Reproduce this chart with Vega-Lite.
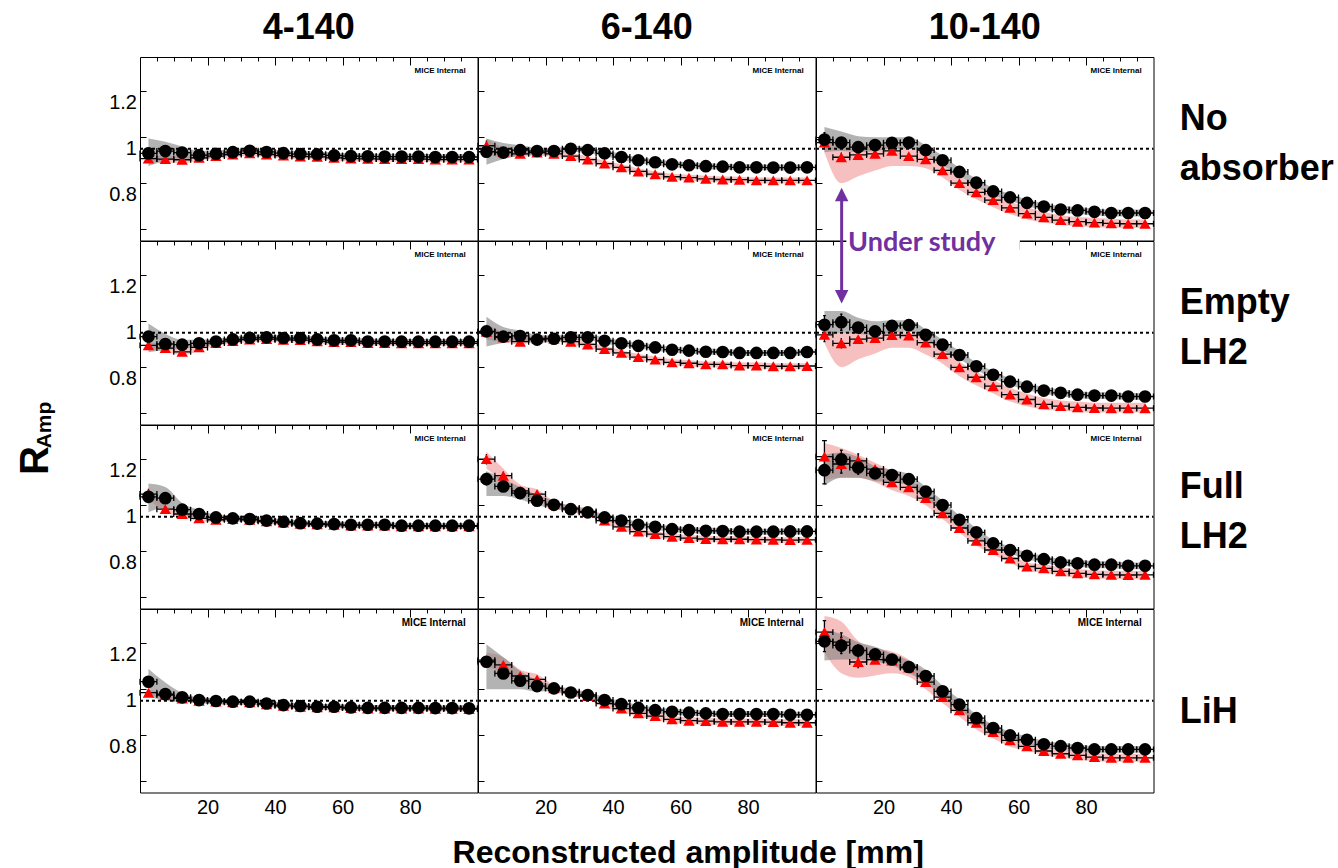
{
"$schema":"https://vega.github.io/schema/vega-lite/v6.json",
"background":"white",
"padding":{"left":16,"top":10,"right":2,"bottom":2},
"config":{
 "font":"Liberation Sans",
 "view":{"stroke":"black","strokeWidth":1},
 "axis":{"domain":false,"ticks":false,"grid":true,"gridColor":"black","gridOpacity":1,"gridWidth":1,"labelFont":"Liberation Sans","labelFontSize":20,"labelColor":"black","labelOverlap":false},
 "header":{"labelFont":"Liberation Sans","titleFont":"Liberation Sans","labelColor":"black","titleColor":"black"}
},
"title":{"text":"Reconstructed amplitude [mm]","orient":"bottom","anchor":"middle","fontSize":32,"fontWeight":"bold","font":"Liberation Sans","color":"black","offset":21,"dx":13},
"vconcat":[{
"title":{"text":"R","orient":"left","anchor":"middle","fontSize":40,"fontWeight":"bold","font":"Liberation Sans","color":"black","offset":-22,"dx":-47},
"bounds":"flush",
"data":{"values":[
{"r":1,"c":1,"x":2.5,"d":0.98,"de":0.02,"dl":0.925,"dh":1.045,"m":0.957,"me":0.015,"ml":0.942,"mh":0.972},
{"r":1,"c":1,"x":7.5,"d":0.99,"de":0.008,"dl":0.945,"dh":1.03,"m":0.955,"me":0.008,"ml":0.94,"mh":0.97},
{"r":1,"c":1,"x":12.5,"d":0.983,"de":0.008,"dl":0.955,"dh":1.01,"m":0.952,"me":0.008,"ml":0.937,"mh":0.967},
{"r":1,"c":1,"x":17.5,"d":0.972,"de":0.008,"dl":0.955,"dh":0.99,"m":0.96,"me":0.008,"ml":0.948,"mh":0.972},
{"r":1,"c":1,"x":22.5,"d":0.978,"de":0.008,"dl":0.963,"dh":0.993,"m":0.968,"me":0.008,"ml":0.956,"mh":0.98},
{"r":1,"c":1,"x":27.5,"d":0.985,"de":0.008,"dl":0.973,"dh":0.997,"m":0.975,"me":0.008,"ml":0.963,"mh":0.987},
{"r":1,"c":1,"x":32.5,"d":0.991,"de":0.008,"dl":0.979,"dh":1.003,"m":0.98,"me":0.008,"ml":0.968,"mh":0.992},
{"r":1,"c":1,"x":37.5,"d":0.986,"de":0.008,"dl":0.974,"dh":0.998,"m":0.975,"me":0.008,"ml":0.963,"mh":0.987},
{"r":1,"c":1,"x":42.5,"d":0.981,"de":0.008,"dl":0.969,"dh":0.993,"m":0.97,"me":0.008,"ml":0.958,"mh":0.982},
{"r":1,"c":1,"x":47.5,"d":0.977,"de":0.008,"dl":0.965,"dh":0.989,"m":0.966,"me":0.008,"ml":0.954,"mh":0.978},
{"r":1,"c":1,"x":52.5,"d":0.976,"de":0.008,"dl":0.964,"dh":0.988,"m":0.965,"me":0.008,"ml":0.953,"mh":0.977},
{"r":1,"c":1,"x":57.5,"d":0.971,"de":0.008,"dl":0.959,"dh":0.983,"m":0.96,"me":0.008,"ml":0.948,"mh":0.972},
{"r":1,"c":1,"x":62.5,"d":0.968,"de":0.008,"dl":0.956,"dh":0.98,"m":0.957,"me":0.008,"ml":0.945,"mh":0.969},
{"r":1,"c":1,"x":67.5,"d":0.967,"de":0.008,"dl":0.955,"dh":0.979,"m":0.956,"me":0.008,"ml":0.944,"mh":0.968},
{"r":1,"c":1,"x":72.5,"d":0.966,"de":0.008,"dl":0.954,"dh":0.978,"m":0.955,"me":0.008,"ml":0.943,"mh":0.967},
{"r":1,"c":1,"x":77.5,"d":0.966,"de":0.008,"dl":0.954,"dh":0.978,"m":0.955,"me":0.008,"ml":0.943,"mh":0.967},
{"r":1,"c":1,"x":82.5,"d":0.966,"de":0.008,"dl":0.954,"dh":0.978,"m":0.955,"me":0.008,"ml":0.943,"mh":0.967},
{"r":1,"c":1,"x":87.5,"d":0.964,"de":0.008,"dl":0.952,"dh":0.976,"m":0.953,"me":0.008,"ml":0.941,"mh":0.965},
{"r":1,"c":1,"x":92.5,"d":0.964,"de":0.008,"dl":0.952,"dh":0.976,"m":0.953,"me":0.008,"ml":0.941,"mh":0.965},
{"r":1,"c":1,"x":97.5,"d":0.964,"de":0.008,"dl":0.952,"dh":0.976,"m":0.953,"me":0.008,"ml":0.941,"mh":0.965},
{"r":1,"c":2,"x":2.5,"d":0.987,"de":0.02,"dl":0.93,"dh":1.045,"m":1.013,"me":0.02,"ml":0.972,"mh":1.045},
{"r":1,"c":2,"x":7.5,"d":0.983,"de":0.012,"dl":0.955,"dh":1.025,"m":0.985,"me":0.008,"ml":0.965,"mh":1.005},
{"r":1,"c":2,"x":12.5,"d":0.994,"de":0.008,"dl":0.97,"dh":1.015,"m":0.978,"me":0.008,"ml":0.965,"mh":0.991},
{"r":1,"c":2,"x":17.5,"d":0.99,"de":0.008,"dl":0.975,"dh":1.005,"m":0.983,"me":0.008,"ml":0.97,"mh":0.996},
{"r":1,"c":2,"x":22.5,"d":0.99,"de":0.008,"dl":0.977,"dh":1.003,"m":0.978,"me":0.008,"ml":0.965,"mh":0.991},
{"r":1,"c":2,"x":27.5,"d":1.0,"de":0.008,"dl":0.987,"dh":1.013,"m":0.968,"me":0.008,"ml":0.955,"mh":0.981},
{"r":1,"c":2,"x":32.5,"d":0.994,"de":0.008,"dl":0.981,"dh":1.007,"m":0.953,"me":0.008,"ml":0.94,"mh":0.966},
{"r":1,"c":2,"x":37.5,"d":0.98,"de":0.008,"dl":0.967,"dh":0.993,"m":0.935,"me":0.008,"ml":0.922,"mh":0.948},
{"r":1,"c":2,"x":42.5,"d":0.964,"de":0.008,"dl":0.951,"dh":0.977,"m":0.919,"me":0.008,"ml":0.906,"mh":0.932},
{"r":1,"c":2,"x":47.5,"d":0.95,"de":0.008,"dl":0.937,"dh":0.963,"m":0.901,"me":0.008,"ml":0.888,"mh":0.914},
{"r":1,"c":2,"x":52.5,"d":0.941,"de":0.008,"dl":0.928,"dh":0.954,"m":0.889,"me":0.008,"ml":0.876,"mh":0.902},
{"r":1,"c":2,"x":57.5,"d":0.932,"de":0.008,"dl":0.919,"dh":0.945,"m":0.878,"me":0.008,"ml":0.865,"mh":0.891},
{"r":1,"c":2,"x":62.5,"d":0.928,"de":0.008,"dl":0.915,"dh":0.941,"m":0.874,"me":0.008,"ml":0.861,"mh":0.887},
{"r":1,"c":2,"x":67.5,"d":0.924,"de":0.008,"dl":0.911,"dh":0.937,"m":0.869,"me":0.008,"ml":0.856,"mh":0.882},
{"r":1,"c":2,"x":72.5,"d":0.922,"de":0.008,"dl":0.909,"dh":0.935,"m":0.866,"me":0.008,"ml":0.853,"mh":0.879},
{"r":1,"c":2,"x":77.5,"d":0.919,"de":0.008,"dl":0.906,"dh":0.932,"m":0.865,"me":0.008,"ml":0.852,"mh":0.878},
{"r":1,"c":2,"x":82.5,"d":0.919,"de":0.008,"dl":0.906,"dh":0.932,"m":0.862,"me":0.008,"ml":0.849,"mh":0.875},
{"r":1,"c":2,"x":87.5,"d":0.918,"de":0.008,"dl":0.905,"dh":0.931,"m":0.862,"me":0.008,"ml":0.849,"mh":0.875},
{"r":1,"c":2,"x":92.5,"d":0.918,"de":0.008,"dl":0.905,"dh":0.931,"m":0.862,"me":0.008,"ml":0.849,"mh":0.875},
{"r":1,"c":2,"x":97.5,"d":0.919,"de":0.008,"dl":0.906,"dh":0.932,"m":0.862,"me":0.008,"ml":0.849,"mh":0.875},
{"r":1,"c":3,"x":2.5,"d":1.04,"de":0.03,"dl":0.985,"dh":1.095,"m":1.027,"me":0.02,"ml":0.985,"mh":1.06},
{"r":1,"c":3,"x":7.5,"d":1.027,"de":0.02,"dl":0.99,"dh":1.075,"m":0.963,"me":0.018,"ml":0.85,"mh":1.02},
{"r":1,"c":3,"x":12.5,"d":1.007,"de":0.015,"dl":0.985,"dh":1.055,"m":0.973,"me":0.012,"ml":0.88,"mh":1.01},
{"r":1,"c":3,"x":17.5,"d":1.016,"de":0.01,"dl":0.99,"dh":1.05,"m":0.978,"me":0.008,"ml":0.905,"mh":1.01},
{"r":1,"c":3,"x":22.5,"d":1.026,"de":0.01,"dl":1.0,"dh":1.05,"m":0.991,"me":0.008,"ml":0.925,"mh":1.02},
{"r":1,"c":3,"x":27.5,"d":1.027,"de":0.01,"dl":1.0,"dh":1.05,"m":0.968,"me":0.008,"ml":0.925,"mh":1.0},
{"r":1,"c":3,"x":32.5,"d":0.994,"de":0.01,"dl":0.975,"dh":1.015,"m":0.954,"me":0.008,"ml":0.915,"mh":0.98},
{"r":1,"c":3,"x":37.5,"d":0.95,"de":0.01,"dl":0.93,"dh":0.97,"m":0.906,"me":0.008,"ml":0.875,"mh":0.935},
{"r":1,"c":3,"x":42.5,"d":0.899,"de":0.01,"dl":0.882,"dh":0.916,"m":0.85,"me":0.008,"ml":0.82,"mh":0.88},
{"r":1,"c":3,"x":47.5,"d":0.852,"de":0.01,"dl":0.836,"dh":0.868,"m":0.81,"me":0.008,"ml":0.78,"mh":0.84},
{"r":1,"c":3,"x":52.5,"d":0.814,"de":0.01,"dl":0.799,"dh":0.829,"m":0.776,"me":0.008,"ml":0.745,"mh":0.805},
{"r":1,"c":3,"x":57.5,"d":0.788,"de":0.01,"dl":0.773,"dh":0.803,"m":0.742,"me":0.008,"ml":0.715,"mh":0.77},
{"r":1,"c":3,"x":62.5,"d":0.764,"de":0.01,"dl":0.749,"dh":0.779,"m":0.717,"me":0.008,"ml":0.693,"mh":0.745},
{"r":1,"c":3,"x":67.5,"d":0.748,"de":0.01,"dl":0.733,"dh":0.763,"m":0.701,"me":0.008,"ml":0.678,"mh":0.725},
{"r":1,"c":3,"x":72.5,"d":0.735,"de":0.01,"dl":0.72,"dh":0.75,"m":0.689,"me":0.008,"ml":0.668,"mh":0.71},
{"r":1,"c":3,"x":77.5,"d":0.731,"de":0.01,"dl":0.716,"dh":0.746,"m":0.682,"me":0.008,"ml":0.662,"mh":0.702},
{"r":1,"c":3,"x":82.5,"d":0.725,"de":0.01,"dl":0.71,"dh":0.74,"m":0.678,"me":0.008,"ml":0.658,"mh":0.698},
{"r":1,"c":3,"x":87.5,"d":0.72,"de":0.01,"dl":0.705,"dh":0.735,"m":0.675,"me":0.008,"ml":0.656,"mh":0.695},
{"r":1,"c":3,"x":92.5,"d":0.72,"de":0.01,"dl":0.705,"dh":0.735,"m":0.673,"me":0.008,"ml":0.655,"mh":0.692},
{"r":1,"c":3,"x":97.5,"d":0.72,"de":0.01,"dl":0.705,"dh":0.735,"m":0.673,"me":0.008,"ml":0.655,"mh":0.692},
{"r":2,"c":1,"x":2.5,"d":0.983,"de":0.02,"dl":0.915,"dh":1.04,"m":0.945,"me":0.015,"ml":0.93,"mh":0.96},
{"r":2,"c":1,"x":7.5,"d":0.951,"de":0.008,"dl":0.925,"dh":0.995,"m":0.933,"me":0.008,"ml":0.918,"mh":0.948},
{"r":2,"c":1,"x":12.5,"d":0.948,"de":0.008,"dl":0.93,"dh":0.97,"m":0.917,"me":0.008,"ml":0.902,"mh":0.932},
{"r":2,"c":1,"x":17.5,"d":0.954,"de":0.008,"dl":0.94,"dh":0.97,"m":0.936,"me":0.008,"ml":0.922,"mh":0.95},
{"r":2,"c":1,"x":22.5,"d":0.962,"de":0.008,"dl":0.95,"dh":0.975,"m":0.955,"me":0.008,"ml":0.943,"mh":0.967},
{"r":2,"c":1,"x":27.5,"d":0.971,"de":0.008,"dl":0.959,"dh":0.983,"m":0.964,"me":0.008,"ml":0.952,"mh":0.976},
{"r":2,"c":1,"x":32.5,"d":0.978,"de":0.008,"dl":0.966,"dh":0.99,"m":0.97,"me":0.008,"ml":0.958,"mh":0.982},
{"r":2,"c":1,"x":37.5,"d":0.98,"de":0.008,"dl":0.968,"dh":0.992,"m":0.972,"me":0.008,"ml":0.96,"mh":0.984},
{"r":2,"c":1,"x":42.5,"d":0.977,"de":0.008,"dl":0.965,"dh":0.989,"m":0.969,"me":0.008,"ml":0.957,"mh":0.981},
{"r":2,"c":1,"x":47.5,"d":0.977,"de":0.008,"dl":0.965,"dh":0.989,"m":0.968,"me":0.008,"ml":0.956,"mh":0.98},
{"r":2,"c":1,"x":52.5,"d":0.971,"de":0.008,"dl":0.959,"dh":0.983,"m":0.963,"me":0.008,"ml":0.951,"mh":0.975},
{"r":2,"c":1,"x":57.5,"d":0.967,"de":0.008,"dl":0.955,"dh":0.979,"m":0.959,"me":0.008,"ml":0.947,"mh":0.971},
{"r":2,"c":1,"x":62.5,"d":0.967,"de":0.008,"dl":0.955,"dh":0.979,"m":0.959,"me":0.008,"ml":0.947,"mh":0.971},
{"r":2,"c":1,"x":67.5,"d":0.962,"de":0.008,"dl":0.95,"dh":0.974,"m":0.955,"me":0.008,"ml":0.943,"mh":0.967},
{"r":2,"c":1,"x":72.5,"d":0.962,"de":0.008,"dl":0.95,"dh":0.974,"m":0.955,"me":0.008,"ml":0.943,"mh":0.967},
{"r":2,"c":1,"x":77.5,"d":0.961,"de":0.008,"dl":0.949,"dh":0.973,"m":0.954,"me":0.008,"ml":0.942,"mh":0.966},
{"r":2,"c":1,"x":82.5,"d":0.961,"de":0.008,"dl":0.949,"dh":0.973,"m":0.954,"me":0.008,"ml":0.942,"mh":0.966},
{"r":2,"c":1,"x":87.5,"d":0.961,"de":0.008,"dl":0.949,"dh":0.973,"m":0.954,"me":0.008,"ml":0.942,"mh":0.966},
{"r":2,"c":1,"x":92.5,"d":0.961,"de":0.008,"dl":0.949,"dh":0.973,"m":0.954,"me":0.008,"ml":0.942,"mh":0.966},
{"r":2,"c":1,"x":97.5,"d":0.961,"de":0.008,"dl":0.949,"dh":0.973,"m":0.954,"me":0.008,"ml":0.942,"mh":0.966},
{"r":2,"c":2,"x":2.5,"d":1.006,"de":0.02,"dl":0.94,"dh":1.07,"m":1.004,"me":0.02,"ml":0.97,"mh":1.04},
{"r":2,"c":2,"x":7.5,"d":0.983,"de":0.012,"dl":0.955,"dh":1.025,"m":0.98,"me":0.008,"ml":0.96,"mh":1.0},
{"r":2,"c":2,"x":12.5,"d":0.986,"de":0.008,"dl":0.965,"dh":1.01,"m":0.961,"me":0.008,"ml":0.948,"mh":0.974},
{"r":2,"c":2,"x":17.5,"d":0.97,"de":0.008,"dl":0.955,"dh":0.99,"m":0.975,"me":0.008,"ml":0.962,"mh":0.988},
{"r":2,"c":2,"x":22.5,"d":0.974,"de":0.008,"dl":0.961,"dh":0.987,"m":0.975,"me":0.008,"ml":0.962,"mh":0.988},
{"r":2,"c":2,"x":27.5,"d":0.98,"de":0.008,"dl":0.967,"dh":0.993,"m":0.961,"me":0.008,"ml":0.948,"mh":0.974},
{"r":2,"c":2,"x":32.5,"d":0.98,"de":0.008,"dl":0.967,"dh":0.993,"m":0.949,"me":0.008,"ml":0.936,"mh":0.962},
{"r":2,"c":2,"x":37.5,"d":0.965,"de":0.008,"dl":0.952,"dh":0.978,"m":0.929,"me":0.008,"ml":0.916,"mh":0.942},
{"r":2,"c":2,"x":42.5,"d":0.954,"de":0.008,"dl":0.941,"dh":0.967,"m":0.912,"me":0.008,"ml":0.899,"mh":0.925},
{"r":2,"c":2,"x":47.5,"d":0.943,"de":0.008,"dl":0.93,"dh":0.956,"m":0.894,"me":0.008,"ml":0.881,"mh":0.907},
{"r":2,"c":2,"x":52.5,"d":0.936,"de":0.008,"dl":0.923,"dh":0.949,"m":0.883,"me":0.008,"ml":0.87,"mh":0.896},
{"r":2,"c":2,"x":57.5,"d":0.926,"de":0.008,"dl":0.913,"dh":0.939,"m":0.871,"me":0.008,"ml":0.858,"mh":0.884},
{"r":2,"c":2,"x":62.5,"d":0.922,"de":0.008,"dl":0.909,"dh":0.935,"m":0.867,"me":0.008,"ml":0.854,"mh":0.88},
{"r":2,"c":2,"x":67.5,"d":0.917,"de":0.008,"dl":0.904,"dh":0.93,"m":0.862,"me":0.008,"ml":0.849,"mh":0.875},
{"r":2,"c":2,"x":72.5,"d":0.916,"de":0.008,"dl":0.903,"dh":0.929,"m":0.862,"me":0.008,"ml":0.849,"mh":0.875},
{"r":2,"c":2,"x":77.5,"d":0.912,"de":0.008,"dl":0.899,"dh":0.925,"m":0.857,"me":0.008,"ml":0.844,"mh":0.87},
{"r":2,"c":2,"x":82.5,"d":0.912,"de":0.008,"dl":0.899,"dh":0.925,"m":0.857,"me":0.008,"ml":0.844,"mh":0.87},
{"r":2,"c":2,"x":87.5,"d":0.912,"de":0.008,"dl":0.899,"dh":0.925,"m":0.854,"me":0.008,"ml":0.841,"mh":0.867},
{"r":2,"c":2,"x":92.5,"d":0.912,"de":0.008,"dl":0.899,"dh":0.925,"m":0.854,"me":0.008,"ml":0.841,"mh":0.867},
{"r":2,"c":2,"x":97.5,"d":0.916,"de":0.008,"dl":0.903,"dh":0.929,"m":0.855,"me":0.008,"ml":0.842,"mh":0.868},
{"r":2,"c":3,"x":2.5,"d":1.035,"de":0.04,"dl":0.985,"dh":1.095,"m":0.991,"me":0.03,"ml":0.955,"mh":1.02},
{"r":2,"c":3,"x":7.5,"d":1.046,"de":0.035,"dl":1.0,"dh":1.095,"m":0.954,"me":0.02,"ml":0.85,"mh":1.0},
{"r":2,"c":3,"x":12.5,"d":1.023,"de":0.02,"dl":0.995,"dh":1.065,"m":0.972,"me":0.01,"ml":0.885,"mh":1.0},
{"r":2,"c":3,"x":17.5,"d":1.006,"de":0.01,"dl":0.99,"dh":1.05,"m":0.977,"me":0.01,"ml":0.91,"mh":1.0},
{"r":2,"c":3,"x":22.5,"d":1.03,"de":0.01,"dl":1.0,"dh":1.055,"m":0.99,"me":0.01,"ml":0.935,"mh":1.01},
{"r":2,"c":3,"x":27.5,"d":1.033,"de":0.01,"dl":1.005,"dh":1.055,"m":0.988,"me":0.01,"ml":0.935,"mh":1.0},
{"r":2,"c":3,"x":32.5,"d":0.991,"de":0.01,"dl":0.97,"dh":1.015,"m":0.957,"me":0.01,"ml":0.905,"mh":0.98},
{"r":2,"c":3,"x":37.5,"d":0.948,"de":0.01,"dl":0.925,"dh":0.97,"m":0.907,"me":0.01,"ml":0.865,"mh":0.935},
{"r":2,"c":3,"x":42.5,"d":0.903,"de":0.01,"dl":0.886,"dh":0.92,"m":0.849,"me":0.01,"ml":0.81,"mh":0.875},
{"r":2,"c":3,"x":47.5,"d":0.854,"de":0.01,"dl":0.838,"dh":0.87,"m":0.806,"me":0.01,"ml":0.77,"mh":0.83},
{"r":2,"c":3,"x":52.5,"d":0.817,"de":0.01,"dl":0.802,"dh":0.832,"m":0.767,"me":0.01,"ml":0.735,"mh":0.795},
{"r":2,"c":3,"x":57.5,"d":0.787,"de":0.01,"dl":0.772,"dh":0.802,"m":0.73,"me":0.01,"ml":0.7,"mh":0.76},
{"r":2,"c":3,"x":62.5,"d":0.765,"de":0.01,"dl":0.75,"dh":0.78,"m":0.709,"me":0.01,"ml":0.68,"mh":0.735},
{"r":2,"c":3,"x":67.5,"d":0.748,"de":0.01,"dl":0.733,"dh":0.763,"m":0.688,"me":0.01,"ml":0.665,"mh":0.715},
{"r":2,"c":3,"x":72.5,"d":0.738,"de":0.01,"dl":0.723,"dh":0.753,"m":0.68,"me":0.01,"ml":0.66,"mh":0.705},
{"r":2,"c":3,"x":77.5,"d":0.73,"de":0.01,"dl":0.715,"dh":0.745,"m":0.675,"me":0.01,"ml":0.655,"mh":0.7},
{"r":2,"c":3,"x":82.5,"d":0.726,"de":0.01,"dl":0.711,"dh":0.741,"m":0.672,"me":0.01,"ml":0.652,"mh":0.695},
{"r":2,"c":3,"x":87.5,"d":0.726,"de":0.01,"dl":0.711,"dh":0.741,"m":0.671,"me":0.01,"ml":0.652,"mh":0.695},
{"r":2,"c":3,"x":92.5,"d":0.722,"de":0.01,"dl":0.707,"dh":0.737,"m":0.671,"me":0.01,"ml":0.652,"mh":0.695},
{"r":2,"c":3,"x":97.5,"d":0.722,"de":0.01,"dl":0.707,"dh":0.737,"m":0.671,"me":0.01,"ml":0.652,"mh":0.695},
{"r":3,"c":1,"x":2.5,"d":1.087,"de":0.025,"dl":1.02,"dh":1.145,"m":1.099,"me":0.02,"ml":1.08,"mh":1.12},
{"r":3,"c":1,"x":7.5,"d":1.081,"de":0.015,"dl":1.04,"dh":1.13,"m":1.033,"me":0.008,"ml":1.02,"mh":1.05},
{"r":3,"c":1,"x":12.5,"d":1.031,"de":0.008,"dl":1.01,"dh":1.06,"m":1.012,"me":0.008,"ml":1.0,"mh":1.024},
{"r":3,"c":1,"x":17.5,"d":1.012,"de":0.008,"dl":0.995,"dh":1.03,"m":0.993,"me":0.008,"ml":0.981,"mh":1.005},
{"r":3,"c":1,"x":22.5,"d":0.997,"de":0.008,"dl":0.985,"dh":1.009,"m":0.987,"me":0.008,"ml":0.975,"mh":0.999},
{"r":3,"c":1,"x":27.5,"d":0.993,"de":0.008,"dl":0.981,"dh":1.005,"m":0.99,"me":0.008,"ml":0.978,"mh":1.002},
{"r":3,"c":1,"x":32.5,"d":0.99,"de":0.008,"dl":0.978,"dh":1.002,"m":0.987,"me":0.008,"ml":0.975,"mh":0.999},
{"r":3,"c":1,"x":37.5,"d":0.983,"de":0.008,"dl":0.971,"dh":0.995,"m":0.98,"me":0.008,"ml":0.968,"mh":0.992},
{"r":3,"c":1,"x":42.5,"d":0.978,"de":0.008,"dl":0.966,"dh":0.99,"m":0.975,"me":0.008,"ml":0.963,"mh":0.987},
{"r":3,"c":1,"x":47.5,"d":0.972,"de":0.008,"dl":0.96,"dh":0.984,"m":0.969,"me":0.008,"ml":0.957,"mh":0.981},
{"r":3,"c":1,"x":52.5,"d":0.97,"de":0.008,"dl":0.958,"dh":0.982,"m":0.967,"me":0.008,"ml":0.955,"mh":0.979},
{"r":3,"c":1,"x":57.5,"d":0.968,"de":0.008,"dl":0.956,"dh":0.98,"m":0.965,"me":0.008,"ml":0.953,"mh":0.977},
{"r":3,"c":1,"x":62.5,"d":0.965,"de":0.008,"dl":0.953,"dh":0.977,"m":0.962,"me":0.008,"ml":0.95,"mh":0.974},
{"r":3,"c":1,"x":67.5,"d":0.965,"de":0.008,"dl":0.953,"dh":0.977,"m":0.962,"me":0.008,"ml":0.95,"mh":0.974},
{"r":3,"c":1,"x":72.5,"d":0.965,"de":0.008,"dl":0.953,"dh":0.977,"m":0.962,"me":0.008,"ml":0.95,"mh":0.974},
{"r":3,"c":1,"x":77.5,"d":0.961,"de":0.008,"dl":0.949,"dh":0.973,"m":0.958,"me":0.008,"ml":0.946,"mh":0.97},
{"r":3,"c":1,"x":82.5,"d":0.961,"de":0.008,"dl":0.949,"dh":0.973,"m":0.958,"me":0.008,"ml":0.946,"mh":0.97},
{"r":3,"c":1,"x":87.5,"d":0.961,"de":0.008,"dl":0.949,"dh":0.973,"m":0.958,"me":0.008,"ml":0.946,"mh":0.97},
{"r":3,"c":1,"x":92.5,"d":0.961,"de":0.008,"dl":0.949,"dh":0.973,"m":0.958,"me":0.008,"ml":0.946,"mh":0.97},
{"r":3,"c":1,"x":97.5,"d":0.961,"de":0.008,"dl":0.949,"dh":0.973,"m":0.958,"me":0.008,"ml":0.946,"mh":0.97},
{"r":3,"c":2,"x":2.5,"d":1.164,"de":0.025,"dl":1.09,"dh":1.2,"m":1.251,"me":0.02,"ml":1.21,"mh":1.285},
{"r":3,"c":2,"x":7.5,"d":1.132,"de":0.02,"dl":1.09,"dh":1.165,"m":1.179,"me":0.015,"ml":1.15,"mh":1.21},
{"r":3,"c":2,"x":12.5,"d":1.103,"de":0.012,"dl":1.075,"dh":1.13,"m":1.113,"me":0.008,"ml":1.09,"mh":1.14},
{"r":3,"c":2,"x":17.5,"d":1.07,"de":0.008,"dl":1.05,"dh":1.095,"m":1.099,"me":0.008,"ml":1.075,"mh":1.12},
{"r":3,"c":2,"x":22.5,"d":1.052,"de":0.008,"dl":1.035,"dh":1.07,"m":1.055,"me":0.008,"ml":1.042,"mh":1.068},
{"r":3,"c":2,"x":27.5,"d":1.033,"de":0.008,"dl":1.02,"dh":1.046,"m":1.038,"me":0.008,"ml":1.025,"mh":1.051},
{"r":3,"c":2,"x":32.5,"d":1.019,"de":0.008,"dl":1.006,"dh":1.032,"m":1.023,"me":0.008,"ml":1.01,"mh":1.036},
{"r":3,"c":2,"x":37.5,"d":0.997,"de":0.008,"dl":0.984,"dh":1.01,"m":0.983,"me":0.008,"ml":0.97,"mh":0.996},
{"r":3,"c":2,"x":42.5,"d":0.983,"de":0.008,"dl":0.97,"dh":0.996,"m":0.956,"me":0.008,"ml":0.943,"mh":0.969},
{"r":3,"c":2,"x":47.5,"d":0.965,"de":0.008,"dl":0.952,"dh":0.978,"m":0.935,"me":0.008,"ml":0.922,"mh":0.948},
{"r":3,"c":2,"x":52.5,"d":0.956,"de":0.008,"dl":0.943,"dh":0.969,"m":0.924,"me":0.008,"ml":0.911,"mh":0.937},
{"r":3,"c":2,"x":57.5,"d":0.946,"de":0.008,"dl":0.933,"dh":0.959,"m":0.913,"me":0.008,"ml":0.9,"mh":0.926},
{"r":3,"c":2,"x":62.5,"d":0.942,"de":0.008,"dl":0.929,"dh":0.955,"m":0.907,"me":0.008,"ml":0.894,"mh":0.92},
{"r":3,"c":2,"x":67.5,"d":0.939,"de":0.008,"dl":0.926,"dh":0.952,"m":0.903,"me":0.008,"ml":0.89,"mh":0.916},
{"r":3,"c":2,"x":72.5,"d":0.938,"de":0.008,"dl":0.925,"dh":0.951,"m":0.902,"me":0.008,"ml":0.889,"mh":0.915},
{"r":3,"c":2,"x":77.5,"d":0.935,"de":0.008,"dl":0.922,"dh":0.948,"m":0.902,"me":0.008,"ml":0.889,"mh":0.915},
{"r":3,"c":2,"x":82.5,"d":0.935,"de":0.008,"dl":0.922,"dh":0.948,"m":0.9,"me":0.008,"ml":0.887,"mh":0.913},
{"r":3,"c":2,"x":87.5,"d":0.935,"de":0.008,"dl":0.922,"dh":0.948,"m":0.899,"me":0.008,"ml":0.886,"mh":0.912},
{"r":3,"c":2,"x":92.5,"d":0.936,"de":0.008,"dl":0.923,"dh":0.949,"m":0.898,"me":0.008,"ml":0.885,"mh":0.911},
{"r":3,"c":2,"x":97.5,"d":0.936,"de":0.008,"dl":0.923,"dh":0.949,"m":0.899,"me":0.008,"ml":0.886,"mh":0.912},
{"r":3,"c":3,"x":2.5,"d":1.203,"de":0.06,"dl":1.135,"dh":1.27,"m":1.262,"me":0.07,"ml":1.16,"mh":1.32},
{"r":3,"c":3,"x":7.5,"d":1.25,"de":0.04,"dl":1.17,"dh":1.28,"m":1.23,"me":0.04,"ml":1.17,"mh":1.3},
{"r":3,"c":3,"x":12.5,"d":1.215,"de":0.03,"dl":1.17,"dh":1.26,"m":1.244,"me":0.03,"ml":1.17,"mh":1.27},
{"r":3,"c":3,"x":17.5,"d":1.189,"de":0.02,"dl":1.155,"dh":1.22,"m":1.208,"me":0.012,"ml":1.15,"mh":1.235},
{"r":3,"c":3,"x":22.5,"d":1.182,"de":0.015,"dl":1.15,"dh":1.205,"m":1.15,"me":0.012,"ml":1.115,"mh":1.2},
{"r":3,"c":3,"x":27.5,"d":1.164,"de":0.01,"dl":1.135,"dh":1.185,"m":1.128,"me":0.012,"ml":1.09,"mh":1.16},
{"r":3,"c":3,"x":32.5,"d":1.11,"de":0.01,"dl":1.08,"dh":1.13,"m":1.081,"me":0.012,"ml":1.05,"mh":1.11},
{"r":3,"c":3,"x":37.5,"d":1.051,"de":0.01,"dl":1.025,"dh":1.07,"m":1.015,"me":0.012,"ml":0.99,"mh":1.04},
{"r":3,"c":3,"x":42.5,"d":0.987,"de":0.01,"dl":0.965,"dh":1.005,"m":0.951,"me":0.012,"ml":0.93,"mh":0.975},
{"r":3,"c":3,"x":47.5,"d":0.932,"de":0.01,"dl":0.91,"dh":0.95,"m":0.895,"me":0.012,"ml":0.875,"mh":0.92},
{"r":3,"c":3,"x":52.5,"d":0.884,"de":0.01,"dl":0.869,"dh":0.899,"m":0.855,"me":0.012,"ml":0.835,"mh":0.875},
{"r":3,"c":3,"x":57.5,"d":0.855,"de":0.01,"dl":0.84,"dh":0.87,"m":0.818,"me":0.012,"ml":0.8,"mh":0.836},
{"r":3,"c":3,"x":62.5,"d":0.83,"de":0.01,"dl":0.815,"dh":0.845,"m":0.783,"me":0.012,"ml":0.765,"mh":0.801},
{"r":3,"c":3,"x":67.5,"d":0.815,"de":0.01,"dl":0.8,"dh":0.83,"m":0.775,"me":0.012,"ml":0.757,"mh":0.793},
{"r":3,"c":3,"x":72.5,"d":0.801,"de":0.01,"dl":0.786,"dh":0.816,"m":0.762,"me":0.012,"ml":0.744,"mh":0.78},
{"r":3,"c":3,"x":77.5,"d":0.797,"de":0.01,"dl":0.782,"dh":0.812,"m":0.753,"me":0.012,"ml":0.735,"mh":0.771},
{"r":3,"c":3,"x":82.5,"d":0.791,"de":0.01,"dl":0.776,"dh":0.806,"m":0.749,"me":0.012,"ml":0.731,"mh":0.767},
{"r":3,"c":3,"x":87.5,"d":0.791,"de":0.01,"dl":0.776,"dh":0.806,"m":0.747,"me":0.012,"ml":0.729,"mh":0.765},
{"r":3,"c":3,"x":92.5,"d":0.786,"de":0.01,"dl":0.771,"dh":0.801,"m":0.746,"me":0.012,"ml":0.728,"mh":0.764},
{"r":3,"c":3,"x":97.5,"d":0.786,"de":0.01,"dl":0.771,"dh":0.801,"m":0.747,"me":0.012,"ml":0.729,"mh":0.765},
{"r":4,"c":1,"x":2.5,"d":1.083,"de":0.02,"dl":1.02,"dh":1.14,"m":1.035,"me":0.012,"ml":1.023,"mh":1.047},
{"r":4,"c":1,"x":7.5,"d":1.029,"de":0.008,"dl":1.0,"dh":1.08,"m":1.025,"me":0.008,"ml":1.013,"mh":1.037},
{"r":4,"c":1,"x":12.5,"d":1.015,"de":0.008,"dl":0.995,"dh":1.035,"m":1.01,"me":0.008,"ml":0.998,"mh":1.022},
{"r":4,"c":1,"x":17.5,"d":1.003,"de":0.008,"dl":0.99,"dh":1.015,"m":1.0,"me":0.008,"ml":0.988,"mh":1.012},
{"r":4,"c":1,"x":22.5,"d":0.999,"de":0.008,"dl":0.987,"dh":1.011,"m":0.996,"me":0.008,"ml":0.984,"mh":1.008},
{"r":4,"c":1,"x":27.5,"d":0.996,"de":0.008,"dl":0.984,"dh":1.008,"m":0.993,"me":0.008,"ml":0.981,"mh":1.005},
{"r":4,"c":1,"x":32.5,"d":0.996,"de":0.008,"dl":0.984,"dh":1.008,"m":0.993,"me":0.008,"ml":0.981,"mh":1.005},
{"r":4,"c":1,"x":37.5,"d":0.988,"de":0.008,"dl":0.976,"dh":1.0,"m":0.985,"me":0.008,"ml":0.973,"mh":0.997},
{"r":4,"c":1,"x":42.5,"d":0.981,"de":0.008,"dl":0.969,"dh":0.993,"m":0.978,"me":0.008,"ml":0.966,"mh":0.99},
{"r":4,"c":1,"x":47.5,"d":0.977,"de":0.008,"dl":0.965,"dh":0.989,"m":0.974,"me":0.008,"ml":0.962,"mh":0.986},
{"r":4,"c":1,"x":52.5,"d":0.974,"de":0.008,"dl":0.962,"dh":0.986,"m":0.971,"me":0.008,"ml":0.959,"mh":0.983},
{"r":4,"c":1,"x":57.5,"d":0.974,"de":0.008,"dl":0.962,"dh":0.986,"m":0.971,"me":0.008,"ml":0.959,"mh":0.983},
{"r":4,"c":1,"x":62.5,"d":0.971,"de":0.008,"dl":0.959,"dh":0.983,"m":0.968,"me":0.008,"ml":0.956,"mh":0.98},
{"r":4,"c":1,"x":67.5,"d":0.969,"de":0.008,"dl":0.957,"dh":0.981,"m":0.966,"me":0.008,"ml":0.954,"mh":0.978},
{"r":4,"c":1,"x":72.5,"d":0.969,"de":0.008,"dl":0.957,"dh":0.981,"m":0.966,"me":0.008,"ml":0.954,"mh":0.978},
{"r":4,"c":1,"x":77.5,"d":0.969,"de":0.008,"dl":0.957,"dh":0.981,"m":0.966,"me":0.008,"ml":0.954,"mh":0.978},
{"r":4,"c":1,"x":82.5,"d":0.969,"de":0.008,"dl":0.957,"dh":0.981,"m":0.966,"me":0.008,"ml":0.954,"mh":0.978},
{"r":4,"c":1,"x":87.5,"d":0.968,"de":0.008,"dl":0.956,"dh":0.98,"m":0.965,"me":0.008,"ml":0.953,"mh":0.977},
{"r":4,"c":1,"x":92.5,"d":0.968,"de":0.008,"dl":0.956,"dh":0.98,"m":0.965,"me":0.008,"ml":0.953,"mh":0.977},
{"r":4,"c":1,"x":97.5,"d":0.967,"de":0.008,"dl":0.955,"dh":0.979,"m":0.964,"me":0.008,"ml":0.952,"mh":0.976},
{"r":4,"c":2,"x":2.5,"d":1.17,"de":0.02,"dl":1.05,"dh":1.245,"m":1.177,"me":0.015,"ml":1.15,"mh":1.21},
{"r":4,"c":2,"x":7.5,"d":1.119,"de":0.008,"dl":1.05,"dh":1.19,"m":1.156,"me":0.008,"ml":1.12,"mh":1.19},
{"r":4,"c":2,"x":12.5,"d":1.087,"de":0.008,"dl":1.05,"dh":1.13,"m":1.108,"me":0.008,"ml":1.08,"mh":1.135},
{"r":4,"c":2,"x":17.5,"d":1.064,"de":0.008,"dl":1.04,"dh":1.09,"m":1.093,"me":0.008,"ml":1.07,"mh":1.115},
{"r":4,"c":2,"x":22.5,"d":1.054,"de":0.008,"dl":1.041,"dh":1.067,"m":1.054,"me":0.008,"ml":1.039,"mh":1.069},
{"r":4,"c":2,"x":27.5,"d":1.036,"de":0.008,"dl":1.023,"dh":1.049,"m":1.039,"me":0.008,"ml":1.024,"mh":1.054},
{"r":4,"c":2,"x":32.5,"d":1.025,"de":0.008,"dl":1.012,"dh":1.038,"m":1.02,"me":0.008,"ml":1.005,"mh":1.035},
{"r":4,"c":2,"x":37.5,"d":1.003,"de":0.008,"dl":0.99,"dh":1.016,"m":0.988,"me":0.008,"ml":0.973,"mh":1.003},
{"r":4,"c":2,"x":42.5,"d":0.985,"de":0.008,"dl":0.972,"dh":0.998,"m":0.966,"me":0.008,"ml":0.951,"mh":0.981},
{"r":4,"c":2,"x":47.5,"d":0.969,"de":0.008,"dl":0.956,"dh":0.982,"m":0.945,"me":0.008,"ml":0.93,"mh":0.96},
{"r":4,"c":2,"x":52.5,"d":0.959,"de":0.008,"dl":0.946,"dh":0.972,"m":0.933,"me":0.008,"ml":0.918,"mh":0.948},
{"r":4,"c":2,"x":57.5,"d":0.952,"de":0.008,"dl":0.939,"dh":0.965,"m":0.919,"me":0.008,"ml":0.904,"mh":0.934},
{"r":4,"c":2,"x":62.5,"d":0.948,"de":0.008,"dl":0.935,"dh":0.961,"m":0.913,"me":0.008,"ml":0.898,"mh":0.928},
{"r":4,"c":2,"x":67.5,"d":0.945,"de":0.008,"dl":0.932,"dh":0.958,"m":0.911,"me":0.008,"ml":0.896,"mh":0.926},
{"r":4,"c":2,"x":72.5,"d":0.942,"de":0.008,"dl":0.929,"dh":0.955,"m":0.908,"me":0.008,"ml":0.893,"mh":0.923},
{"r":4,"c":2,"x":77.5,"d":0.942,"de":0.008,"dl":0.929,"dh":0.955,"m":0.908,"me":0.008,"ml":0.893,"mh":0.923},
{"r":4,"c":2,"x":82.5,"d":0.942,"de":0.008,"dl":0.929,"dh":0.955,"m":0.908,"me":0.008,"ml":0.893,"mh":0.923},
{"r":4,"c":2,"x":87.5,"d":0.942,"de":0.008,"dl":0.929,"dh":0.955,"m":0.907,"me":0.008,"ml":0.892,"mh":0.922},
{"r":4,"c":2,"x":92.5,"d":0.939,"de":0.008,"dl":0.926,"dh":0.952,"m":0.904,"me":0.008,"ml":0.889,"mh":0.919},
{"r":4,"c":2,"x":97.5,"d":0.939,"de":0.008,"dl":0.926,"dh":0.952,"m":0.904,"me":0.008,"ml":0.889,"mh":0.919},
{"r":4,"c":3,"x":2.5,"d":1.259,"de":0.045,"dl":1.176,"dh":1.307,"m":1.299,"me":0.05,"ml":1.21,"mh":1.37},
{"r":4,"c":3,"x":7.5,"d":1.241,"de":0.035,"dl":1.18,"dh":1.29,"m":1.256,"me":0.04,"ml":1.12,"mh":1.345},
{"r":4,"c":3,"x":12.5,"d":1.219,"de":0.025,"dl":1.18,"dh":1.255,"m":1.169,"me":0.025,"ml":1.1,"mh":1.26},
{"r":4,"c":3,"x":17.5,"d":1.202,"de":0.01,"dl":1.17,"dh":1.235,"m":1.179,"me":0.012,"ml":1.11,"mh":1.23},
{"r":4,"c":3,"x":22.5,"d":1.18,"de":0.01,"dl":1.155,"dh":1.205,"m":1.175,"me":0.012,"ml":1.12,"mh":1.215},
{"r":4,"c":3,"x":27.5,"d":1.147,"de":0.01,"dl":1.12,"dh":1.175,"m":1.145,"me":0.012,"ml":1.105,"mh":1.18},
{"r":4,"c":3,"x":32.5,"d":1.108,"de":0.01,"dl":1.08,"dh":1.135,"m":1.081,"me":0.012,"ml":1.05,"mh":1.115},
{"r":4,"c":3,"x":37.5,"d":1.041,"de":0.01,"dl":1.015,"dh":1.065,"m":1.016,"me":0.012,"ml":0.99,"mh":1.045},
{"r":4,"c":3,"x":42.5,"d":0.983,"de":0.01,"dl":0.96,"dh":1.005,"m":0.958,"me":0.012,"ml":0.93,"mh":0.985},
{"r":4,"c":3,"x":47.5,"d":0.924,"de":0.01,"dl":0.909,"dh":0.939,"m":0.904,"me":0.012,"ml":0.875,"mh":0.93},
{"r":4,"c":3,"x":52.5,"d":0.881,"de":0.01,"dl":0.866,"dh":0.896,"m":0.863,"me":0.012,"ml":0.835,"mh":0.89},
{"r":4,"c":3,"x":57.5,"d":0.849,"de":0.01,"dl":0.834,"dh":0.864,"m":0.827,"me":0.012,"ml":0.8,"mh":0.855},
{"r":4,"c":3,"x":62.5,"d":0.83,"de":0.01,"dl":0.815,"dh":0.845,"m":0.801,"me":0.012,"ml":0.783,"mh":0.819},
{"r":4,"c":3,"x":67.5,"d":0.81,"de":0.01,"dl":0.795,"dh":0.825,"m":0.781,"me":0.012,"ml":0.763,"mh":0.799},
{"r":4,"c":3,"x":72.5,"d":0.802,"de":0.01,"dl":0.787,"dh":0.817,"m":0.769,"me":0.012,"ml":0.751,"mh":0.787},
{"r":4,"c":3,"x":77.5,"d":0.794,"de":0.01,"dl":0.779,"dh":0.809,"m":0.762,"me":0.012,"ml":0.744,"mh":0.78},
{"r":4,"c":3,"x":82.5,"d":0.788,"de":0.01,"dl":0.773,"dh":0.803,"m":0.754,"me":0.012,"ml":0.736,"mh":0.772},
{"r":4,"c":3,"x":87.5,"d":0.788,"de":0.01,"dl":0.773,"dh":0.803,"m":0.751,"me":0.012,"ml":0.733,"mh":0.769},
{"r":4,"c":3,"x":92.5,"d":0.788,"de":0.01,"dl":0.773,"dh":0.803,"m":0.751,"me":0.012,"ml":0.733,"mh":0.769},
{"r":4,"c":3,"x":97.5,"d":0.788,"de":0.01,"dl":0.773,"dh":0.803,"m":0.751,"me":0.012,"ml":0.733,"mh":0.769}
]},
"facet":{
 "row":{"field":"r","type":"ordinal","header":{"title":"Amp","titleOrient":"left","titleAngle":-90,"titleFontSize":21,"titleFontWeight":"bold","titlePadding":51,"labelOrient":"right","labelPadding":0,"labelExpr":"''"}},
 "column":{"field":"c","type":"ordinal","header":{"title":null,"labelFontSize":36,"labelFontWeight":"bold","labelPadding":10,"labelExpr":"datum.value==1?'4-140':datum.value==2?'6-140':'10-140'"}}
},
"spacing":{"row":0,"column":0},
"spec":{
 "width":337.5,"height":183.5,
 "encoding":{"x":{"field":"x","type":"quantitative","scale":{"domain":[0,100],"nice":false},"axis":{"values":[5,10,15,20,25,30,35,40,45,50,55,60,65,70,75,80,85,90,95],"labelExpr":"datum.value%20==0?datum.label:''","gridDash":{"condition":{"test":"datum.value%20==0","value":[8,1000]},"value":[4,1000]},"labelPadding":4,"labelFlush":false,"title":null}}},
 "layer":[
  {"mark":{"type":"area","interpolate":"monotone","color":"#f08c8c","opacity":0.55},
   "encoding":{"y":{"field":"ml","type":"quantitative","scale":{"domain":[0.6,1.4],"nice":false},"axis":{"values":[0.65,0.7,0.75,0.8,0.85,0.9,0.95,1,1.05,1.1,1.15,1.2,1.25,1.3,1.35],"labelExpr":"datum.value==1.2?'1.2':datum.value==1?'1':datum.value==0.8?'0.8':''","gridDash":{"condition":{"test":"datum.value==0.8||datum.value==1||datum.value==1.2","value":[12,1000]},"value":[6,1000]},"labelPadding":3,"title":null}},"y2":{"field":"mh"}}},
  {"mark":{"type":"area","interpolate":"monotone","color":"#808080","opacity":0.6},
   "encoding":{"y":{"field":"dl","type":"quantitative","scale":{"domain":[0.6,1.4],"nice":false},"axis":{"values":[0.65,0.7,0.75,0.8,0.85,0.9,0.95,1,1.05,1.1,1.15,1.2,1.25,1.3,1.35],"labelExpr":"datum.value==1.2?'1.2':datum.value==1?'1':datum.value==0.8?'0.8':''","gridDash":{"condition":{"test":"datum.value==0.8||datum.value==1||datum.value==1.2","value":[12,1000]},"value":[6,1000]},"labelPadding":3,"title":null}},"y2":{"field":"dh"}}},
  {"transform":[{"filter":"datum.x==97.5"}],"mark":{"type":"rule","strokeDash":[3,3],"strokeWidth":2,"color":"black"},
   "encoding":{"x":{"datum":0,"type":"quantitative"},"x2":{"datum":100},"y":{"datum":1,"type":"quantitative","scale":{"domain":[0.6,1.4],"nice":false}}}},
  {"mark":{"type":"point","shape":"M0,-1L0,1M-0.15,-1L0.15,-1M-0.15,1L0.15,1","filled":false,"stroke":"black","strokeWidth":1.3,"opacity":1},
   "encoding":{"y":{"field":"m","type":"quantitative","scale":{"domain":[0.6,1.4],"nice":false}},"size":{"field":"me","type":"quantitative","scale":{"type":"pow","exponent":2,"domain":[0,0.1],"range":[0,2105],"nice":false,"zero":true},"legend":null}}},
  {"mark":{"type":"point","shape":"M0,-1L0,1M-0.15,-1L0.15,-1M-0.15,1L0.15,1","filled":false,"stroke":"black","strokeWidth":1.3,"opacity":1},
   "encoding":{"y":{"field":"d","type":"quantitative","scale":{"domain":[0.6,1.4],"nice":false}},"size":{"field":"de","type":"quantitative","scale":{"type":"pow","exponent":2,"domain":[0,0.1],"range":[0,2105],"nice":false,"zero":true},"legend":null}}},
  {"mark":{"type":"point","shape":"M-1,0L1,0M-1,-0.35L-1,0.35M1,-0.35L1,0.35","size":285,"filled":false,"stroke":"black","strokeWidth":1.3,"opacity":1},
   "encoding":{"y":{"field":"m","type":"quantitative","scale":{"domain":[0.6,1.4],"nice":false}}}},
  {"mark":{"type":"point","shape":"M-1,0L1,0M-1,-0.35L-1,0.35M1,-0.35L1,0.35","size":285,"filled":false,"stroke":"black","strokeWidth":1.3,"opacity":1},
   "encoding":{"y":{"field":"d","type":"quantitative","scale":{"domain":[0.6,1.4],"nice":false}}}},
  {"mark":{"type":"point","shape":"triangle-up","filled":true,"color":"#ff0000","size":130,"opacity":1},
   "encoding":{"y":{"field":"m","type":"quantitative","scale":{"domain":[0.6,1.4],"nice":false}}}},
  {"mark":{"type":"circle","color":"black","size":160,"opacity":1},
   "encoding":{"y":{"field":"d","type":"quantitative","scale":{"domain":[0.6,1.4],"nice":false}}}},
  {"transform":[{"filter":"datum.c==1&&datum.x==97.5"}],"mark":{"type":"text","align":"right","baseline":"middle","font":"Liberation Sans","fontSize":20,"color":"black"},
   "encoding":{"x":{"datum":-0.9,"type":"quantitative"},"y":{"datum":1.2,"type":"quantitative","scale":{"domain":[0.6,1.4],"nice":false}},"text":{"value":"1.2"}}},
  {"transform":[{"filter":"datum.c==1&&datum.x==97.5"}],"mark":{"type":"text","align":"right","baseline":"middle","font":"Liberation Sans","fontSize":20,"color":"black"},
   "encoding":{"x":{"datum":-0.9,"type":"quantitative"},"y":{"datum":1,"type":"quantitative","scale":{"domain":[0.6,1.4],"nice":false}},"text":{"value":"1"}}},
  {"transform":[{"filter":"datum.c==1&&datum.x==97.5"}],"mark":{"type":"text","align":"right","baseline":"middle","font":"Liberation Sans","fontSize":20,"color":"black"},
   "encoding":{"x":{"datum":-0.9,"type":"quantitative"},"y":{"datum":0.8,"type":"quantitative","scale":{"domain":[0.6,1.4],"nice":false}},"text":{"value":"0.8"}}},
  {"transform":[{"filter":"datum.x==97.5"}],"mark":{"type":"text","align":"right","baseline":"middle","fontWeight":"bold","font":"Liberation Sans","color":"black"},
   "encoding":{"x":{"datum":96.5,"type":"quantitative"},"y":{"datum":1.34,"type":"quantitative","scale":{"domain":[0.6,1.4],"nice":false}},"text":{"value":"MICE Internal"},"size":{"condition":{"test":"datum.r==4","value":10},"value":8}}},
  {"transform":[{"filter":"datum.c==3&&datum.x==97.5&&datum.r<4"}],"mark":{"type":"text","align":"left","baseline":"middle","fontWeight":"bold","font":"Liberation Sans","fontSize":36,"lineHeight":50,"color":"black"},
   "encoding":{"x":{"datum":107.8,"type":"quantitative"},"y":{"datum":1.13,"type":"quantitative","scale":{"domain":[0.6,1.4],"nice":false}},"text":{"condition":[{"test":"datum.r==1","value":["No","absorber"]},{"test":"datum.r==2","value":["Empty","LH2"]}],"value":["Full","LH2"]}}},
  {"transform":[{"filter":"datum.c==3&&datum.x==97.5&&datum.r==4"}],"mark":{"type":"text","align":"left","baseline":"middle","fontWeight":"bold","font":"Liberation Sans","fontSize":36,"color":"black"},
   "encoding":{"x":{"datum":107.8,"type":"quantitative"},"y":{"datum":0.95,"type":"quantitative","scale":{"domain":[0.6,1.4],"nice":false}},"text":{"value":"LiH"}}},
  {"transform":[{"filter":"datum.r==2&&datum.c==3&&datum.x==2.5"}],"mark":{"type":"rect","color":"white","opacity":1},
   "encoding":{"x":{"datum":9,"type":"quantitative"},"x2":{"datum":60.4},"y":{"datum":1.32,"type":"quantitative","scale":{"domain":[0.6,1.4],"nice":false}},"y2":{"datum":1.47}}},
  {"transform":[{"filter":"datum.r==2&&datum.c==3&&datum.x==2.5"}],"mark":{"type":"rule","color":"#7030A0","strokeWidth":3},
   "encoding":{"x":{"datum":7.6,"type":"quantitative"},"y":{"datum":1.16,"type":"quantitative","scale":{"domain":[0.6,1.4],"nice":false}},"y2":{"datum":1.6}}},
  {"transform":[{"filter":"datum.r==2&&datum.c==3&&datum.x==2.5"}],"mark":{"type":"point","shape":"M0,-1L1,1L-1,1Z","size":180,"filled":true,"color":"#7030A0","opacity":1},
   "encoding":{"x":{"datum":7.6,"type":"quantitative"},"y":{"datum":1.603,"type":"quantitative","scale":{"domain":[0.6,1.4],"nice":false}}}},
  {"transform":[{"filter":"datum.r==2&&datum.c==3&&datum.x==2.5"}],"mark":{"type":"point","shape":"M0,1L1,-1L-1,-1Z","size":180,"filled":true,"color":"#7030A0","opacity":1},
   "encoding":{"x":{"datum":7.6,"type":"quantitative"},"y":{"datum":1.157,"type":"quantitative","scale":{"domain":[0.6,1.4],"nice":false}}}},
  {"transform":[{"filter":"datum.r==2&&datum.c==3&&datum.x==2.5"}],"mark":{"type":"text","align":"left","baseline":"middle","fontWeight":"bold","font":"Lato","fontSize":27,"color":"#7030A0"},
   "encoding":{"x":{"datum":9.5,"type":"quantitative"},"y":{"datum":1.392,"type":"quantitative","scale":{"domain":[0.6,1.4],"nice":false}},"text":{"value":"Under study"}}}
 ]
}
}]
}
